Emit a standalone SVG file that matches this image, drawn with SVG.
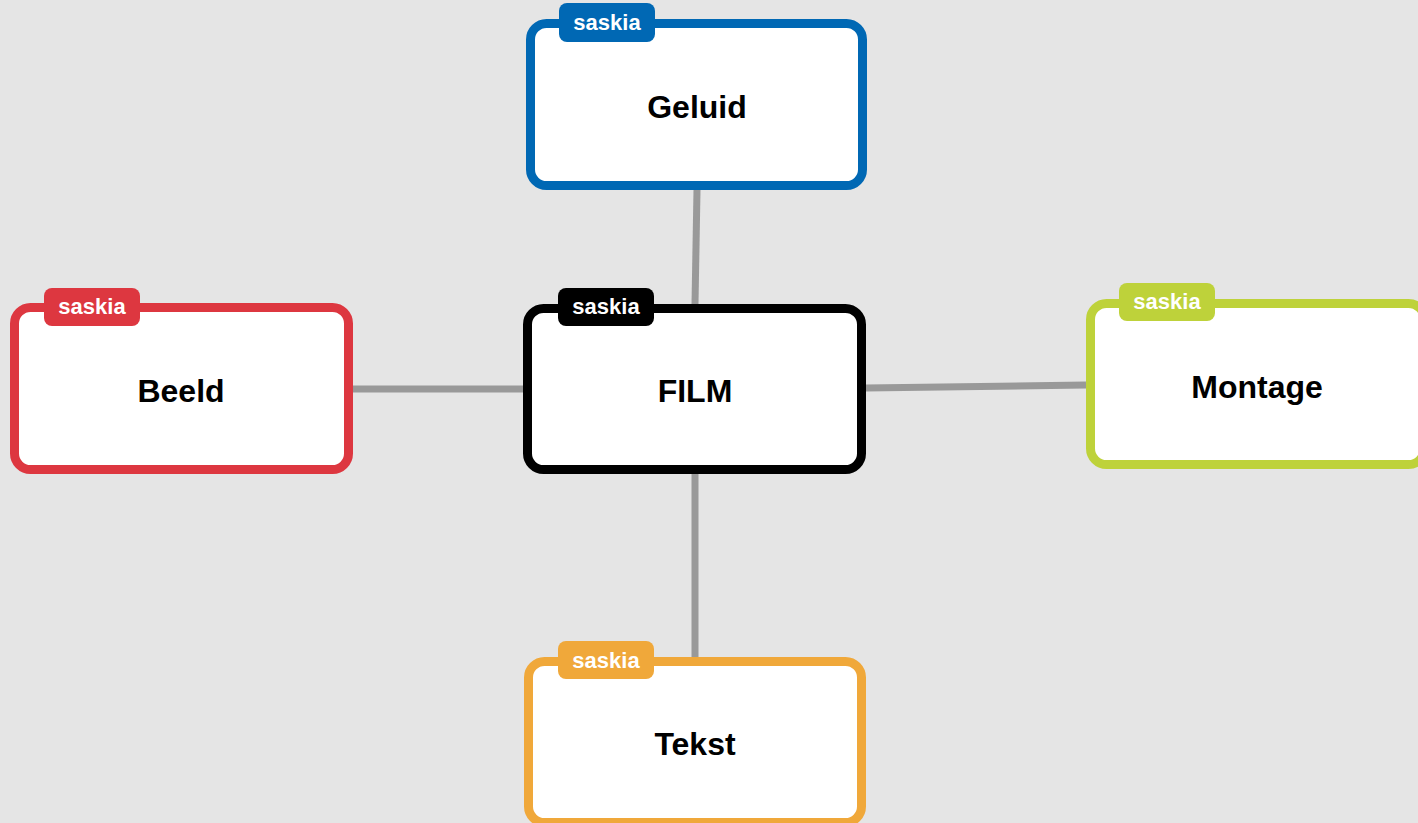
<svg xmlns="http://www.w3.org/2000/svg" width="1418" height="823" viewBox="0 0 1418 823">
<style>
.box{fill:#ffffff;stroke-width:9}
.tag{stroke:none}
.tagtxt{font-family:"Liberation Sans",Arial,sans-serif;font-weight:bold;font-size:22px;fill:#ffffff;text-anchor:middle}
.lbl{font-family:"Liberation Sans",Arial,sans-serif;font-weight:bold;font-size:32px;fill:#000000;text-anchor:middle}
.conn{stroke:#999999;stroke-width:7;fill:none}
</style>
<rect x="0" y="0" width="1418" height="823" fill="#e5e5e5"/>
<g id="connectors">
<line class="conn" x1="697" y1="190" x2="695" y2="304"/>
<line class="conn" x1="353" y1="389" x2="523" y2="389"/>
<line class="conn" x1="866" y1="388" x2="1086" y2="385"/>
<line class="conn" x1="695" y1="474" x2="695" y2="657"/>
</g>
<g id="node-geluid">
<rect class="box" x="530.5" y="23.5" width="332" height="162" rx="16" stroke="#0068b4"/>
<rect class="tag" x="559" y="3" width="96" height="39" rx="8" fill="#0068b4"/>
<text class="tagtxt" x="607" y="30">saskia</text>
<text class="lbl" x="697" y="118">Geluid</text>
</g>
<g id="node-beeld">
<rect class="box" x="14.5" y="307.5" width="334" height="162" rx="16" stroke="#dd3740"/>
<rect class="tag" x="44" y="288" width="96" height="38" rx="8" fill="#dd3740"/>
<text class="tagtxt" x="92" y="314">saskia</text>
<text class="lbl" x="181" y="402">Beeld</text>
</g>
<g id="node-film">
<rect class="box" x="527.5" y="308.5" width="334" height="161" rx="16" stroke="#000000"/>
<rect class="tag" x="558" y="288" width="96" height="38" rx="8" fill="#000000"/>
<text class="tagtxt" x="606" y="314">saskia</text>
<text class="lbl" x="695" y="402">FILM</text>
</g>
<g id="node-montage">
<rect class="box" x="1090.5" y="303.5" width="334" height="161" rx="16" stroke="#bed23a"/>
<rect class="tag" x="1119" y="283" width="96" height="38" rx="8" fill="#bed23a"/>
<text class="tagtxt" x="1167" y="309">saskia</text>
<text class="lbl" x="1257" y="398">Montage</text>
</g>
<g id="node-tekst">
<rect class="box" x="528.5" y="661.5" width="333" height="161" rx="16" stroke="#f0a83a"/>
<rect class="tag" x="558" y="641" width="96" height="38" rx="8" fill="#f0a83a"/>
<text class="tagtxt" x="606" y="668">saskia</text>
<text class="lbl" x="695" y="755">Tekst</text>
</g>
</svg>
